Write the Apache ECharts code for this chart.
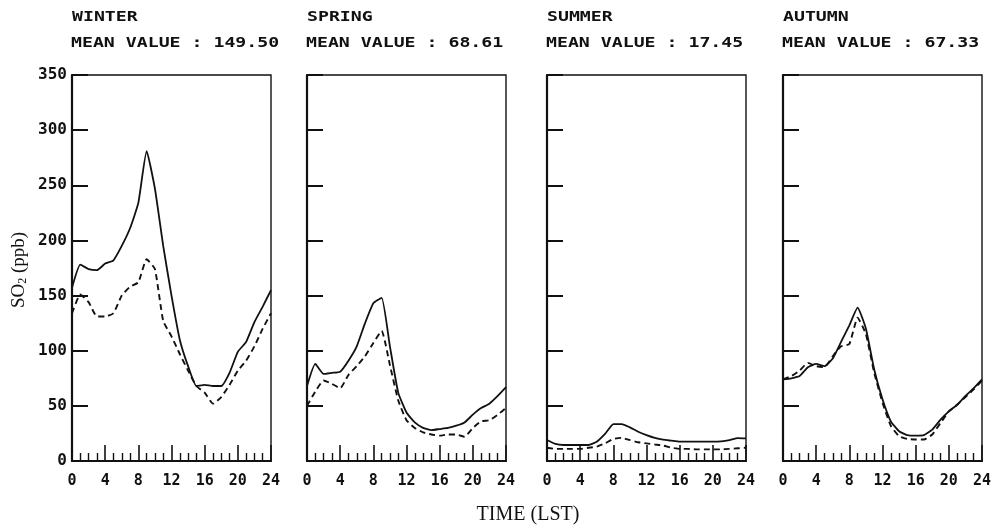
<!DOCTYPE html>
<html>
<head>
<meta charset="utf-8">
<script src="https://cdn.jsdelivr.net/npm/echarts@6/dist/echarts.min.js"></script>
<style>
  html, body { margin: 0; padding: 0; background: #fff; }
  #chart { width: 1000px; height: 532px; }
</style>
</head>
<body>
<div id="chart"></div>
<script>
// Hour of day (LST)
const hours = [0, 1, 2, 3, 4, 5, 6, 7, 8, 9, 10, 11, 12, 13, 14, 15, 16, 17, 18, 19, 20, 21, 22, 23, 24];

// Panel headings
const seasons = ['WINTER', 'SPRING', 'SUMMER', 'AUTUMN'];
const meanValues = ['149.50', '68.61', '17.45', '67.33'];

// SO2 concentration (ppb), solid and dashed curves per season
const winterSolid  = [157, 178, 174, 173, 179, 182, 195, 211, 234, 281, 247, 195, 150, 110, 86, 68, 69, 68, 68, 80, 99, 108, 126, 140, 155];
const winterDashed = [134, 151, 144, 131, 131, 134, 150, 158, 162, 183, 174, 127, 113, 97, 82, 68, 62, 52, 58, 69, 82, 91, 104, 120, 134];

const springSolid  = [68, 88, 79, 80, 81, 91, 104, 125, 143, 148, 104, 62, 44, 35, 30, 28, 29, 30, 32, 35, 42, 48, 52, 59, 67];
const springDashed = [50, 63, 73, 70, 66, 78, 86, 95, 107, 118, 87, 55, 37, 30, 26, 24, 23, 24, 24, 22, 30, 36, 37, 42, 48];

const summerSolid  = [19, 15.5, 14.5, 14.5, 14.5, 14.5, 17.5, 24.5, 33.5, 33.5, 30.5, 26.5, 23.5, 21, 19.3, 18.4, 17.5, 17.5, 17.5, 17.5, 17.5, 17.8, 18.9, 20.8, 20.5];
const summerDashed = [12, 11, 11, 11, 11, 12, 13, 16, 20, 21, 19, 17, 16, 15, 14, 12, 11, 11, 10.5, 10.5, 10.5, 10.5, 11, 11.5, 12];

const autumnSolid  = [74, 75, 77, 85, 88, 86, 93, 108, 123, 139, 120, 83, 56, 36, 27, 23.5, 23, 23.5, 28.5, 37.5, 45, 51, 59, 66, 74];
const autumnDashed = [74, 77, 82, 89, 86, 85, 95, 104, 106, 130, 115, 80, 53, 32, 22.5, 20, 19.5, 19.5, 24, 34.5, 45, 51, 58, 65, 73];

// Axis ticks
const xTickStep = 4;
const yMax = 350;
const yTickStep = 50;

const solidSets = [winterSolid, springSolid, summerSolid, autumnSolid];
const dashedSets = [winterDashed, springDashed, summerDashed, autumnDashed];

// Layout of the four panels
const panelLeft = [72, 307, 547, 783];
const panelWidth = 199;
const panelTop = 75;
const panelHeight = 386;

const plotFont = 'DejaVu Sans Mono';
const ink = '#111';

const toPairs = (vals) => hours.map((h, i) => [h, vals[i]]);

const grids = [], xAxes = [], yAxes = [], series = [], graphics = [];

panelLeft.forEach((left, i) => {
  grids.push({
    left: left, top: panelTop, width: panelWidth, height: panelHeight,
    show: true, borderColor: ink, borderWidth: 1.4, backgroundColor: 'transparent'
  });
  xAxes.push({
    type: 'value', gridIndex: i, min: 0, max: 24, interval: xTickStep,
    axisLine: { show: true, lineStyle: { color: ink, width: 2.2 } },
    axisTick: { show: true, inside: true, length: 16, lineStyle: { color: ink, width: 1.6 } },
    minorTick: { show: true, splitNumber: 4, length: 8, lineStyle: { color: ink, width: 1.4 } },
    splitLine: { show: false },
    axisLabel: { show: true, margin: 13, fontFamily: plotFont, fontWeight: 'bold', fontSize: 15, color: ink }
  });
  yAxes.push({
    type: 'value', gridIndex: i, min: 0, max: yMax, interval: yTickStep,
    axisLine: { show: true, lineStyle: { color: ink, width: 2.2 } },
    axisTick: { show: true, inside: true, length: 16, lineStyle: { color: ink, width: 2 } },
    splitLine: { show: false },
    axisLabel: {
      show: i === 0, margin: 5, fontFamily: plotFont, fontWeight: 'bold', fontSize: 16, color: ink,
      padding: [7, 0, 0, 0]
    }
  });
  series.push({
    type: 'line', xAxisIndex: i, yAxisIndex: i, data: toPairs(solidSets[i]),
    showSymbol: false, smooth: 0.15, lineStyle: { color: ink, width: 1.8, type: 'solid' }
  });
  series.push({
    type: 'line', xAxisIndex: i, yAxisIndex: i, data: toPairs(dashedSets[i]),
    showSymbol: false, smooth: 0.15, lineStyle: { color: ink, width: 1.9, type: [6, 4] }
  });
  graphics.push({
    type: 'text', left: left, top: 10, scaleX: 1.3,
    style: { text: seasons[i], font: 'bold 14px ' + plotFont, fill: ink }
  });
  graphics.push({
    type: 'text', left: left - 1, top: 36, scaleX: 1.3,
    style: { text: 'MEAN VALUE : ' + meanValues[i], font: 'bold 14px ' + plotFont, fill: ink }
  });
});

// Shared axis titles
graphics.push({
  type: 'text', x: 528, y: 515,
  style: { text: 'TIME (LST)', font: '20px "Liberation Serif"', fill: ink, align: 'center', verticalAlign: 'middle' }
});
graphics.push({
  type: 'text', x: 19, y: 270, rotation: Math.PI / 2,
  style: {
    text: 'SO{sub|2} (ppb)', font: '19px "Liberation Serif"', fill: ink,
    align: 'center', verticalAlign: 'middle',
    rich: { sub: { fontSize: 12, fontFamily: 'Liberation Serif', verticalAlign: 'bottom', padding: [8, 0, 0, 0] } }
  }
});

const chart = echarts.init(document.getElementById('chart'), null, { renderer: 'canvas' });
chart.setOption({
  animation: false,
  backgroundColor: '#fff',
  grid: grids,
  xAxis: xAxes,
  yAxis: yAxes,
  series: series,
  graphic: graphics
});
</script>
</body>
</html>
